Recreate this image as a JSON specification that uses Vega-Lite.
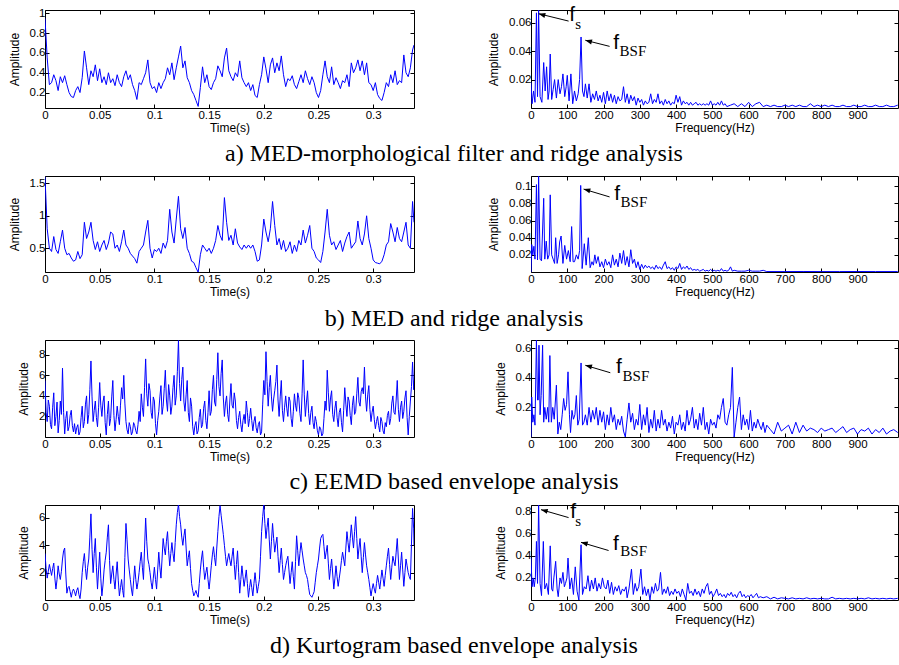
{
"$schema": "https://vega.github.io/schema/vega-lite/v6.json",
"autosize": {"type": "pad"},
"padding": {"left": 7, "top": 3, "right": 0, "bottom": 0},
"background": "white",
"bounds": "flush",
"columns": 2,
"spacing": {"row": 68, "column": 117},
"datasets": {
"ta": [{"t":0,"v":0.95},{"t":0.002,"v":0.55},{"t":0.004,"v":0.28},{"t":0.006,"v":0.3},{"t":0.008,"v":0.38},{"t":0.01,"v":0.32},{"t":0.012,"v":0.22},{"t":0.014,"v":0.36},{"t":0.016,"v":0.3},{"t":0.018,"v":0.37},{"t":0.02,"v":0.28},{"t":0.022,"v":0.2},{"t":0.024,"v":0.16},{"t":0.026,"v":0.15},{"t":0.028,"v":0.22},{"t":0.03,"v":0.26},{"t":0.032,"v":0.2},{"t":0.034,"v":0.35},{"t":0.036,"v":0.62},{"t":0.038,"v":0.45},{"t":0.04,"v":0.28},{"t":0.042,"v":0.42},{"t":0.044,"v":0.36},{"t":0.046,"v":0.48},{"t":0.048,"v":0.32},{"t":0.05,"v":0.44},{"t":0.052,"v":0.3},{"t":0.054,"v":0.36},{"t":0.056,"v":0.28},{"t":0.058,"v":0.4},{"t":0.06,"v":0.3},{"t":0.062,"v":0.34},{"t":0.064,"v":0.27},{"t":0.066,"v":0.38},{"t":0.068,"v":0.3},{"t":0.07,"v":0.26},{"t":0.072,"v":0.36},{"t":0.074,"v":0.42},{"t":0.076,"v":0.33},{"t":0.078,"v":0.38},{"t":0.08,"v":0.28},{"t":0.082,"v":0.22},{"t":0.084,"v":0.13},{"t":0.086,"v":0.3},{"t":0.088,"v":0.28},{"t":0.09,"v":0.34},{"t":0.092,"v":0.4},{"t":0.094,"v":0.53},{"t":0.096,"v":0.3},{"t":0.098,"v":0.24},{"t":0.1,"v":0.26},{"t":0.102,"v":0.2},{"t":0.104,"v":0.3},{"t":0.106,"v":0.24},{"t":0.108,"v":0.3},{"t":0.11,"v":0.34},{"t":0.112,"v":0.45},{"t":0.114,"v":0.38},{"t":0.116,"v":0.5},{"t":0.118,"v":0.33},{"t":0.12,"v":0.45},{"t":0.122,"v":0.56},{"t":0.124,"v":0.67},{"t":0.126,"v":0.45},{"t":0.128,"v":0.52},{"t":0.13,"v":0.35},{"t":0.132,"v":0.3},{"t":0.134,"v":0.22},{"t":0.136,"v":0.18},{"t":0.138,"v":0.12},{"t":0.14,"v":0.06},{"t":0.142,"v":0.25},{"t":0.144,"v":0.46},{"t":0.146,"v":0.3},{"t":0.148,"v":0.38},{"t":0.15,"v":0.26},{"t":0.152,"v":0.23},{"t":0.154,"v":0.3},{"t":0.156,"v":0.34},{"t":0.158,"v":0.47},{"t":0.16,"v":0.42},{"t":0.162,"v":0.36},{"t":0.164,"v":0.55},{"t":0.166,"v":0.65},{"t":0.168,"v":0.42},{"t":0.17,"v":0.36},{"t":0.172,"v":0.32},{"t":0.174,"v":0.4},{"t":0.176,"v":0.36},{"t":0.178,"v":0.52},{"t":0.18,"v":0.35},{"t":0.182,"v":0.3},{"t":0.184,"v":0.26},{"t":0.186,"v":0.3},{"t":0.188,"v":0.22},{"t":0.19,"v":0.28},{"t":0.192,"v":0.17},{"t":0.194,"v":0.15},{"t":0.196,"v":0.28},{"t":0.198,"v":0.38},{"t":0.2,"v":0.56},{"t":0.202,"v":0.44},{"t":0.204,"v":0.3},{"t":0.206,"v":0.48},{"t":0.208,"v":0.55},{"t":0.21,"v":0.4},{"t":0.212,"v":0.5},{"t":0.214,"v":0.42},{"t":0.216,"v":0.57},{"t":0.218,"v":0.38},{"t":0.22,"v":0.26},{"t":0.222,"v":0.34},{"t":0.224,"v":0.32},{"t":0.226,"v":0.37},{"t":0.228,"v":0.28},{"t":0.23,"v":0.24},{"t":0.232,"v":0.31},{"t":0.234,"v":0.38},{"t":0.236,"v":0.3},{"t":0.238,"v":0.42},{"t":0.24,"v":0.34},{"t":0.242,"v":0.28},{"t":0.244,"v":0.36},{"t":0.246,"v":0.3},{"t":0.248,"v":0.2},{"t":0.25,"v":0.15},{"t":0.252,"v":0.22},{"t":0.254,"v":0.38},{"t":0.256,"v":0.52},{"t":0.258,"v":0.36},{"t":0.26,"v":0.3},{"t":0.262,"v":0.46},{"t":0.264,"v":0.28},{"t":0.266,"v":0.35},{"t":0.268,"v":0.3},{"t":0.27,"v":0.24},{"t":0.272,"v":0.32},{"t":0.274,"v":0.3},{"t":0.276,"v":0.38},{"t":0.278,"v":0.26},{"t":0.28,"v":0.5},{"t":0.282,"v":0.4},{"t":0.284,"v":0.45},{"t":0.286,"v":0.53},{"t":0.288,"v":0.42},{"t":0.29,"v":0.52},{"t":0.292,"v":0.38},{"t":0.294,"v":0.5},{"t":0.296,"v":0.3},{"t":0.298,"v":0.28},{"t":0.3,"v":0.22},{"t":0.302,"v":0.3},{"t":0.304,"v":0.18},{"t":0.306,"v":0.14},{"t":0.308,"v":0.12},{"t":0.31,"v":0.2},{"t":0.312,"v":0.3},{"t":0.314,"v":0.26},{"t":0.316,"v":0.38},{"t":0.318,"v":0.3},{"t":0.32,"v":0.42},{"t":0.322,"v":0.28},{"t":0.324,"v":0.32},{"t":0.326,"v":0.3},{"t":0.328,"v":0.58},{"t":0.33,"v":0.4},{"t":0.332,"v":0.36},{"t":0.334,"v":0.45},{"t":0.336,"v":0.63},{"t":0.3373,"v":0.68}],
"tb": [{"t":0,"v":1.6},{"t":0.002,"v":0.8},{"t":0.004,"v":0.5},{"t":0.006,"v":0.45},{"t":0.008,"v":0.68},{"t":0.01,"v":0.48},{"t":0.012,"v":0.42},{"t":0.014,"v":0.6},{"t":0.016,"v":0.78},{"t":0.018,"v":0.5},{"t":0.02,"v":0.4},{"t":0.022,"v":0.42},{"t":0.024,"v":0.35},{"t":0.026,"v":0.3},{"t":0.028,"v":0.32},{"t":0.03,"v":0.45},{"t":0.032,"v":0.34},{"t":0.034,"v":0.4},{"t":0.036,"v":0.9},{"t":0.038,"v":0.65},{"t":0.04,"v":0.75},{"t":0.042,"v":0.9},{"t":0.044,"v":0.62},{"t":0.046,"v":0.48},{"t":0.048,"v":0.6},{"t":0.05,"v":0.45},{"t":0.052,"v":0.55},{"t":0.054,"v":0.62},{"t":0.056,"v":0.48},{"t":0.058,"v":0.58},{"t":0.06,"v":0.75},{"t":0.062,"v":0.72},{"t":0.064,"v":0.5},{"t":0.066,"v":0.55},{"t":0.068,"v":0.45},{"t":0.07,"v":0.6},{"t":0.072,"v":0.78},{"t":0.074,"v":0.55},{"t":0.076,"v":0.5},{"t":0.078,"v":0.42},{"t":0.08,"v":0.38},{"t":0.082,"v":0.34},{"t":0.084,"v":0.27},{"t":0.086,"v":0.45},{"t":0.088,"v":0.5},{"t":0.09,"v":0.55},{"t":0.092,"v":0.75},{"t":0.094,"v":0.93},{"t":0.096,"v":0.5},{"t":0.098,"v":0.35},{"t":0.1,"v":0.48},{"t":0.102,"v":0.45},{"t":0.104,"v":0.5},{"t":0.106,"v":0.42},{"t":0.108,"v":0.58},{"t":0.11,"v":0.5},{"t":0.112,"v":0.62},{"t":0.114,"v":1.1},{"t":0.116,"v":0.75},{"t":0.118,"v":0.58},{"t":0.12,"v":0.95},{"t":0.122,"v":1.3},{"t":0.124,"v":0.8},{"t":0.126,"v":0.65},{"t":0.128,"v":0.82},{"t":0.13,"v":0.5},{"t":0.132,"v":0.42},{"t":0.134,"v":0.3},{"t":0.136,"v":0.28},{"t":0.138,"v":0.2},{"t":0.14,"v":0.13},{"t":0.142,"v":0.4},{"t":0.144,"v":0.55},{"t":0.146,"v":0.5},{"t":0.148,"v":0.45},{"t":0.15,"v":0.5},{"t":0.152,"v":0.42},{"t":0.154,"v":0.5},{"t":0.156,"v":0.62},{"t":0.158,"v":0.85},{"t":0.16,"v":0.7},{"t":0.162,"v":0.62},{"t":0.164,"v":1.28},{"t":0.166,"v":0.9},{"t":0.168,"v":0.62},{"t":0.17,"v":0.7},{"t":0.172,"v":0.55},{"t":0.174,"v":0.8},{"t":0.176,"v":0.58},{"t":0.178,"v":0.52},{"t":0.18,"v":0.48},{"t":0.182,"v":0.55},{"t":0.184,"v":0.5},{"t":0.186,"v":0.55},{"t":0.188,"v":0.5},{"t":0.19,"v":0.55},{"t":0.192,"v":0.45},{"t":0.194,"v":0.3},{"t":0.196,"v":0.32},{"t":0.198,"v":0.55},{"t":0.2,"v":0.95},{"t":0.202,"v":0.75},{"t":0.204,"v":0.6},{"t":0.206,"v":0.8},{"t":0.208,"v":1.22},{"t":0.21,"v":0.85},{"t":0.212,"v":0.55},{"t":0.214,"v":0.65},{"t":0.216,"v":0.48},{"t":0.218,"v":0.62},{"t":0.22,"v":0.45},{"t":0.222,"v":0.5},{"t":0.224,"v":0.6},{"t":0.226,"v":0.42},{"t":0.228,"v":0.55},{"t":0.23,"v":0.45},{"t":0.232,"v":0.62},{"t":0.234,"v":0.55},{"t":0.236,"v":0.78},{"t":0.238,"v":0.58},{"t":0.24,"v":0.7},{"t":0.242,"v":0.85},{"t":0.244,"v":0.5},{"t":0.246,"v":0.45},{"t":0.248,"v":0.35},{"t":0.25,"v":0.32},{"t":0.252,"v":0.28},{"t":0.254,"v":0.45},{"t":0.256,"v":0.75},{"t":0.258,"v":1.1},{"t":0.26,"v":0.7},{"t":0.262,"v":0.55},{"t":0.264,"v":0.6},{"t":0.266,"v":0.48},{"t":0.268,"v":0.55},{"t":0.27,"v":0.62},{"t":0.272,"v":0.45},{"t":0.274,"v":0.58},{"t":0.276,"v":0.68},{"t":0.278,"v":0.75},{"t":0.28,"v":0.5},{"t":0.282,"v":0.55},{"t":0.284,"v":0.6},{"t":0.286,"v":0.92},{"t":0.288,"v":0.65},{"t":0.29,"v":0.55},{"t":0.292,"v":0.72},{"t":0.294,"v":1.0},{"t":0.296,"v":0.65},{"t":0.298,"v":0.5},{"t":0.3,"v":0.32},{"t":0.302,"v":0.28},{"t":0.304,"v":0.27},{"t":0.306,"v":0.26},{"t":0.308,"v":0.3},{"t":0.31,"v":0.4},{"t":0.312,"v":0.55},{"t":0.314,"v":0.6},{"t":0.316,"v":0.88},{"t":0.318,"v":0.75},{"t":0.32,"v":0.6},{"t":0.322,"v":0.82},{"t":0.324,"v":0.65},{"t":0.326,"v":0.6},{"t":0.328,"v":0.75},{"t":0.33,"v":0.9},{"t":0.332,"v":0.55},{"t":0.334,"v":0.5},{"t":0.336,"v":1.22},{"t":0.3373,"v":0.9}],
"tc": [{"t":0,"v":5.5},{"t":0.001,"v":2.4},{"t":0.002,"v":1.5},{"t":0.003,"v":3.6},{"t":0.004,"v":3},{"t":0.005,"v":1.2},{"t":0.006,"v":0.8},{"t":0.007,"v":2.9},{"t":0.008,"v":4.3},{"t":0.009,"v":1.1},{"t":0.01,"v":2},{"t":0.011,"v":3.4},{"t":0.012,"v":0.4},{"t":0.013,"v":1.6},{"t":0.014,"v":3.5},{"t":0.015,"v":2.2},{"t":0.016,"v":6.7},{"t":0.017,"v":2.4},{"t":0.018,"v":0.3},{"t":0.019,"v":1.8},{"t":0.02,"v":2.5},{"t":0.021,"v":0.6},{"t":0.022,"v":1},{"t":0.023,"v":2.1},{"t":0.024,"v":2.6},{"t":0.025,"v":1.1},{"t":0.026,"v":0.5},{"t":0.027,"v":1.3},{"t":0.028,"v":0.3},{"t":0.029,"v":0.9},{"t":0.03,"v":1.2},{"t":0.031,"v":0.2},{"t":0.032,"v":0.5},{"t":0.033,"v":1.9},{"t":0.034,"v":3},{"t":0.035,"v":0.9},{"t":0.036,"v":1.5},{"t":0.037,"v":3.2},{"t":0.038,"v":4},{"t":0.039,"v":1.3},{"t":0.04,"v":2.2},{"t":0.041,"v":4.6},{"t":0.042,"v":7.4},{"t":0.043,"v":3.9},{"t":0.044,"v":1.5},{"t":0.045,"v":2.6},{"t":0.046,"v":3.5},{"t":0.047,"v":1.9},{"t":0.048,"v":1},{"t":0.049,"v":2.9},{"t":0.05,"v":5.3},{"t":0.051,"v":3.1},{"t":0.052,"v":2},{"t":0.053,"v":3.4},{"t":0.054,"v":4},{"t":0.055,"v":1.4},{"t":0.056,"v":0.2},{"t":0.057,"v":2.2},{"t":0.058,"v":3.5},{"t":0.059,"v":1.1},{"t":0.06,"v":1.8},{"t":0.061,"v":3.9},{"t":0.062,"v":5.5},{"t":0.063,"v":2.1},{"t":0.064,"v":0.6},{"t":0.065,"v":1.7},{"t":0.066,"v":3},{"t":0.067,"v":2},{"t":0.068,"v":1.2},{"t":0.069,"v":3.1},{"t":0.07,"v":4.8},{"t":0.071,"v":3.7},{"t":0.072,"v":6},{"t":0.073,"v":3.3},{"t":0.074,"v":1.5},{"t":0.075,"v":0.7},{"t":0.076,"v":0.3},{"t":0.077,"v":1.4},{"t":0.078,"v":1},{"t":0.079,"v":0.2},{"t":0.08,"v":0.5},{"t":0.081,"v":1.4},{"t":0.082,"v":1.1},{"t":0.083,"v":0.6},{"t":0.084,"v":0.3},{"t":0.085,"v":1.2},{"t":0.086,"v":2.5},{"t":0.087,"v":1.5},{"t":0.088,"v":4.2},{"t":0.089,"v":2.9},{"t":0.09,"v":2},{"t":0.091,"v":4.8},{"t":0.092,"v":7.6},{"t":0.093,"v":4.2},{"t":0.094,"v":3},{"t":0.095,"v":5.2},{"t":0.096,"v":4.5},{"t":0.097,"v":2.4},{"t":0.098,"v":1.8},{"t":0.099,"v":3.9},{"t":0.1,"v":3.5},{"t":0.101,"v":1.3},{"t":0.102,"v":0.2},{"t":0.103,"v":1.6},{"t":0.104,"v":2.5},{"t":0.105,"v":3.9},{"t":0.106,"v":5},{"t":0.107,"v":2.2},{"t":0.108,"v":3},{"t":0.109,"v":4.7},{"t":0.11,"v":6.5},{"t":0.111,"v":3.6},{"t":0.112,"v":2.5},{"t":0.113,"v":5.1},{"t":0.114,"v":4},{"t":0.115,"v":2.2},{"t":0.116,"v":3},{"t":0.117,"v":4.8},{"t":0.118,"v":6},{"t":0.119,"v":3.1},{"t":0.12,"v":4},{"t":0.121,"v":6.4},{"t":0.122,"v":9.4},{"t":0.123,"v":5.2},{"t":0.124,"v":3.5},{"t":0.125,"v":5.6},{"t":0.126,"v":6.8},{"t":0.127,"v":3.4},{"t":0.128,"v":2.5},{"t":0.129,"v":4.1},{"t":0.13,"v":5.5},{"t":0.131,"v":2.4},{"t":0.132,"v":1.5},{"t":0.133,"v":3.8},{"t":0.134,"v":3},{"t":0.135,"v":1},{"t":0.136,"v":0.2},{"t":0.137,"v":1.1},{"t":0.138,"v":1.5},{"t":0.139,"v":0.3},{"t":0.14,"v":0.6},{"t":0.141,"v":1.9},{"t":0.142,"v":2.7},{"t":0.143,"v":0.9},{"t":0.144,"v":1.2},{"t":0.145,"v":2.8},{"t":0.146,"v":3.5},{"t":0.147,"v":1.6},{"t":0.148,"v":0.8},{"t":0.149,"v":2.4},{"t":0.15,"v":4.5},{"t":0.151,"v":2.1},{"t":0.152,"v":2.5},{"t":0.153,"v":4.6},{"t":0.154,"v":6},{"t":0.155,"v":3.4},{"t":0.156,"v":3},{"t":0.157,"v":5.6},{"t":0.158,"v":8.2},{"t":0.159,"v":4.9},{"t":0.16,"v":4},{"t":0.161,"v":6.2},{"t":0.162,"v":7.5},{"t":0.163,"v":3.8},{"t":0.164,"v":2},{"t":0.165,"v":3.3},{"t":0.166,"v":4},{"t":0.167,"v":2.2},{"t":0.168,"v":1.5},{"t":0.169,"v":3.6},{"t":0.17,"v":5.2},{"t":0.171,"v":3.1},{"t":0.172,"v":2.8},{"t":0.173,"v":4.3},{"t":0.174,"v":3.5},{"t":0.175,"v":1.6},{"t":0.176,"v":0.8},{"t":0.177,"v":1.9},{"t":0.178,"v":2.5},{"t":0.179,"v":1.2},{"t":0.18,"v":0.5},{"t":0.181,"v":1.6},{"t":0.182,"v":2.2},{"t":0.183,"v":1.3},{"t":0.184,"v":3.5},{"t":0.185,"v":2.4},{"t":0.186,"v":1},{"t":0.187,"v":1.8},{"t":0.188,"v":2.8},{"t":0.189,"v":1.6},{"t":0.19,"v":0.6},{"t":0.191,"v":1.5},{"t":0.192,"v":2},{"t":0.193,"v":0.9},{"t":0.194,"v":0.4},{"t":0.195,"v":1.2},{"t":0.196,"v":1.5},{"t":0.197,"v":0.2},{"t":0.198,"v":0.5},{"t":0.199,"v":3.2},{"t":0.2,"v":5.5},{"t":0.201,"v":4.1},{"t":0.202,"v":8.3},{"t":0.203,"v":5.4},{"t":0.204,"v":3},{"t":0.205,"v":4.8},{"t":0.206,"v":6},{"t":0.207,"v":3.9},{"t":0.208,"v":2.5},{"t":0.209,"v":3.7},{"t":0.21,"v":4.5},{"t":0.211,"v":5.4},{"t":0.212,"v":7},{"t":0.213,"v":3.6},{"t":0.214,"v":2},{"t":0.215,"v":3.9},{"t":0.216,"v":5.5},{"t":0.217,"v":2.6},{"t":0.218,"v":1.5},{"t":0.219,"v":2.9},{"t":0.22,"v":4},{"t":0.221,"v":2.8},{"t":0.222,"v":2},{"t":0.223,"v":3.9},{"t":0.224,"v":3.5},{"t":0.225,"v":1.8},{"t":0.226,"v":1},{"t":0.227,"v":2.5},{"t":0.228,"v":4.2},{"t":0.229,"v":3.1},{"t":0.23,"v":2.5},{"t":0.231,"v":4.3},{"t":0.232,"v":3.8},{"t":0.233,"v":2.3},{"t":0.234,"v":1.5},{"t":0.235,"v":4.2},{"t":0.236,"v":7.5},{"t":0.237,"v":4.1},{"t":0.238,"v":2},{"t":0.239,"v":3.4},{"t":0.24,"v":4.5},{"t":0.241,"v":2.3},{"t":0.242,"v":1.2},{"t":0.243,"v":2.4},{"t":0.244,"v":3},{"t":0.245,"v":1.4},{"t":0.246,"v":0.8},{"t":0.247,"v":2},{"t":0.248,"v":1.5},{"t":0.249,"v":0.6},{"t":0.25,"v":0.2},{"t":0.251,"v":1},{"t":0.252,"v":0.8},{"t":0.253,"v":0.1},{"t":0.254,"v":0.3},{"t":0.255,"v":1.8},{"t":0.256,"v":3.5},{"t":0.257,"v":2.6},{"t":0.258,"v":6.5},{"t":0.259,"v":4.3},{"t":0.26,"v":2.5},{"t":0.261,"v":3.8},{"t":0.262,"v":4.5},{"t":0.263,"v":2.2},{"t":0.264,"v":1.5},{"t":0.265,"v":2.8},{"t":0.266,"v":3.5},{"t":0.267,"v":1.9},{"t":0.268,"v":1},{"t":0.269,"v":2.4},{"t":0.27,"v":2.8},{"t":0.271,"v":1.4},{"t":0.272,"v":0.5},{"t":0.273,"v":2.6},{"t":0.274,"v":4.8},{"t":0.275,"v":3.2},{"t":0.276,"v":2},{"t":0.277,"v":3.9},{"t":0.278,"v":3.5},{"t":0.279,"v":2.1},{"t":0.28,"v":1.2},{"t":0.281,"v":3.1},{"t":0.282,"v":4},{"t":0.283,"v":2.2},{"t":0.284,"v":2.5},{"t":0.285,"v":4.2},{"t":0.286,"v":5.8},{"t":0.287,"v":3.4},{"t":0.288,"v":3},{"t":0.289,"v":4.4},{"t":0.29,"v":4.8},{"t":0.291,"v":4.2},{"t":0.292,"v":6.8},{"t":0.293,"v":3.9},{"t":0.294,"v":2.5},{"t":0.295,"v":4.1},{"t":0.296,"v":5},{"t":0.297,"v":2.7},{"t":0.298,"v":1.5},{"t":0.299,"v":2.4},{"t":0.3,"v":3},{"t":0.301,"v":1.7},{"t":0.302,"v":0.8},{"t":0.303,"v":1.5},{"t":0.304,"v":2},{"t":0.305,"v":1.1},{"t":0.306,"v":0.5},{"t":0.307,"v":1.9},{"t":0.308,"v":1.5},{"t":0.309,"v":0.6},{"t":0.31,"v":0.3},{"t":0.311,"v":1.4},{"t":0.312,"v":1},{"t":0.313,"v":2.1},{"t":0.314,"v":2.5},{"t":0.315,"v":1.2},{"t":0.316,"v":1.8},{"t":0.317,"v":3.3},{"t":0.318,"v":4},{"t":0.319,"v":2.4},{"t":0.32,"v":2.2},{"t":0.321,"v":3.6},{"t":0.322,"v":5.5},{"t":0.323,"v":2.7},{"t":0.324,"v":1.5},{"t":0.325,"v":2.9},{"t":0.326,"v":3.5},{"t":0.327,"v":1.8},{"t":0.328,"v":2.5},{"t":0.329,"v":3.8},{"t":0.33,"v":4.5},{"t":0.331,"v":1.9},{"t":0.332,"v":0.2},{"t":0.333,"v":2},{"t":0.334,"v":3.5},{"t":0.335,"v":4.9},{"t":0.336,"v":7.3},{"t":0.337,"v":4.6},{"t":0.3373,"v":5.5}],
"td": [{"t":0,"v":3.4},{"t":0.001,"v":2.3},{"t":0.002,"v":1.6},{"t":0.003,"v":2.1},{"t":0.004,"v":2.6},{"t":0.005,"v":2.2},{"t":0.006,"v":1.8},{"t":0.007,"v":2.3},{"t":0.008,"v":2.7},{"t":0.009,"v":1.6},{"t":0.01,"v":0.8},{"t":0.011,"v":1.5},{"t":0.012,"v":2.5},{"t":0.013,"v":1.9},{"t":0.014,"v":1.5},{"t":0.015,"v":2.1},{"t":0.016,"v":3},{"t":0.017,"v":3.6},{"t":0.018,"v":3.8},{"t":0.019,"v":1.9},{"t":0.02,"v":0.5},{"t":0.021,"v":0.9},{"t":0.022,"v":1},{"t":0.023,"v":0.6},{"t":0.024,"v":0.2},{"t":0.025,"v":0.6},{"t":0.026,"v":0.8},{"t":0.027,"v":0.6},{"t":0.028,"v":0.3},{"t":0.029,"v":0.7},{"t":0.03,"v":0.9},{"t":0.031,"v":0.4},{"t":0.032,"v":0.1},{"t":0.033,"v":0.8},{"t":0.034,"v":2},{"t":0.035,"v":2.8},{"t":0.036,"v":3.4},{"t":0.037,"v":2.3},{"t":0.038,"v":1.5},{"t":0.039,"v":2.4},{"t":0.04,"v":3},{"t":0.041,"v":4.6},{"t":0.042,"v":6.3},{"t":0.043,"v":3.7},{"t":0.044,"v":2},{"t":0.045,"v":3.4},{"t":0.046,"v":4.5},{"t":0.047,"v":2.4},{"t":0.048,"v":0.8},{"t":0.049,"v":2.2},{"t":0.05,"v":3.5},{"t":0.051,"v":1.6},{"t":0.052,"v":0.3},{"t":0.053,"v":1.1},{"t":0.054,"v":2.2},{"t":0.055,"v":2.9},{"t":0.056,"v":3.5},{"t":0.057,"v":4.6},{"t":0.058,"v":5.5},{"t":0.059,"v":2.9},{"t":0.06,"v":1.2},{"t":0.061,"v":1.9},{"t":0.062,"v":2.5},{"t":0.063,"v":1.5},{"t":0.064,"v":0.8},{"t":0.065,"v":1.9},{"t":0.066,"v":2.8},{"t":0.067,"v":1.4},{"t":0.068,"v":0.3},{"t":0.069,"v":0.9},{"t":0.07,"v":1.5},{"t":0.071,"v":0.7},{"t":0.072,"v":0.2},{"t":0.073,"v":3.1},{"t":0.074,"v":5.6},{"t":0.075,"v":4.4},{"t":0.076,"v":3},{"t":0.077,"v":2.2},{"t":0.078,"v":1.5},{"t":0.079,"v":0.8},{"t":0.08,"v":0.3},{"t":0.081,"v":1.4},{"t":0.082,"v":2.5},{"t":0.083,"v":1.5},{"t":0.084,"v":0.8},{"t":0.085,"v":1.3},{"t":0.086,"v":2},{"t":0.087,"v":2.8},{"t":0.088,"v":3.5},{"t":0.089,"v":2.4},{"t":0.09,"v":1.5},{"t":0.091,"v":3.8},{"t":0.092,"v":6},{"t":0.093,"v":4.3},{"t":0.094,"v":3},{"t":0.095,"v":2.6},{"t":0.096,"v":2},{"t":0.097,"v":1.3},{"t":0.098,"v":0.8},{"t":0.099,"v":1.6},{"t":0.1,"v":2.4},{"t":0.101,"v":1.5},{"t":0.102,"v":0.8},{"t":0.103,"v":2.2},{"t":0.104,"v":3.5},{"t":0.105,"v":2.4},{"t":0.106,"v":1.6},{"t":0.107,"v":3},{"t":0.108,"v":4.5},{"t":0.109,"v":3.8},{"t":0.11,"v":3.3},{"t":0.111,"v":4.3},{"t":0.112,"v":5},{"t":0.113,"v":3.6},{"t":0.114,"v":2.5},{"t":0.115,"v":3.4},{"t":0.116,"v":4.2},{"t":0.117,"v":3.4},{"t":0.118,"v":2.8},{"t":0.119,"v":4.2},{"t":0.12,"v":5.5},{"t":0.121,"v":6.4},{"t":0.122,"v":7},{"t":0.123,"v":6.1},{"t":0.124,"v":5.5},{"t":0.125,"v":4.6},{"t":0.126,"v":4},{"t":0.127,"v":4.7},{"t":0.128,"v":5.2},{"t":0.129,"v":3.8},{"t":0.13,"v":2.5},{"t":0.131,"v":3.1},{"t":0.132,"v":3.6},{"t":0.133,"v":2.3},{"t":0.134,"v":1.2},{"t":0.135,"v":0.7},{"t":0.136,"v":0.3},{"t":0.137,"v":0.5},{"t":0.138,"v":0.7},{"t":0.139,"v":0.4},{"t":0.14,"v":0.2},{"t":0.141,"v":1.2},{"t":0.142,"v":2.2},{"t":0.143,"v":3},{"t":0.144,"v":3.6},{"t":0.145,"v":2.4},{"t":0.146,"v":1.5},{"t":0.147,"v":2},{"t":0.148,"v":2.4},{"t":0.149,"v":1.5},{"t":0.15,"v":0.8},{"t":0.151,"v":1.6},{"t":0.152,"v":2.5},{"t":0.153,"v":3.3},{"t":0.154,"v":3.9},{"t":0.155,"v":3.1},{"t":0.156,"v":2.5},{"t":0.157,"v":3.8},{"t":0.158,"v":5},{"t":0.159,"v":6.1},{"t":0.16,"v":6.9},{"t":0.161,"v":6.2},{"t":0.162,"v":5.5},{"t":0.163,"v":4.8},{"t":0.164,"v":4},{"t":0.165,"v":3.2},{"t":0.166,"v":2.5},{"t":0.167,"v":3},{"t":0.168,"v":3.4},{"t":0.169,"v":2.9},{"t":0.17,"v":2.5},{"t":0.171,"v":3.2},{"t":0.172,"v":3.8},{"t":0.173,"v":2.6},{"t":0.174,"v":1.5},{"t":0.175,"v":2.6},{"t":0.176,"v":3.6},{"t":0.177,"v":2},{"t":0.178,"v":0.5},{"t":0.179,"v":1.5},{"t":0.18,"v":2.5},{"t":0.181,"v":1.7},{"t":0.182,"v":1},{"t":0.183,"v":1.6},{"t":0.184,"v":2.2},{"t":0.185,"v":1.2},{"t":0.186,"v":0.2},{"t":0.187,"v":0.9},{"t":0.188,"v":1.5},{"t":0.189,"v":0.9},{"t":0.19,"v":0.3},{"t":0.191,"v":1.2},{"t":0.192,"v":2},{"t":0.193,"v":1.2},{"t":0.194,"v":0.5},{"t":0.195,"v":1},{"t":0.196,"v":1.5},{"t":0.197,"v":3.2},{"t":0.198,"v":5},{"t":0.199,"v":6.1},{"t":0.2,"v":7},{"t":0.201,"v":5.6},{"t":0.202,"v":4.5},{"t":0.203,"v":5.3},{"t":0.204,"v":6},{"t":0.205,"v":4.4},{"t":0.206,"v":3},{"t":0.207,"v":4.3},{"t":0.208,"v":5.6},{"t":0.209,"v":4.5},{"t":0.21,"v":3.5},{"t":0.211,"v":4.1},{"t":0.212,"v":4.6},{"t":0.213,"v":3.2},{"t":0.214,"v":2},{"t":0.215,"v":2.9},{"t":0.216,"v":3.8},{"t":0.217,"v":2.6},{"t":0.218,"v":1.5},{"t":0.219,"v":2},{"t":0.22,"v":2.5},{"t":0.221,"v":2.9},{"t":0.222,"v":3.2},{"t":0.223,"v":2.2},{"t":0.224,"v":1.2},{"t":0.225,"v":2},{"t":0.226,"v":2.8},{"t":0.227,"v":1.7},{"t":0.228,"v":0.8},{"t":0.229,"v":2.8},{"t":0.23,"v":4.7},{"t":0.231,"v":3.6},{"t":0.232,"v":2.5},{"t":0.233,"v":3.4},{"t":0.234,"v":4.2},{"t":0.235,"v":3.6},{"t":0.236,"v":3},{"t":0.237,"v":2.5},{"t":0.238,"v":2},{"t":0.239,"v":1.8},{"t":0.24,"v":1.5},{"t":0.241,"v":0.9},{"t":0.242,"v":0.4},{"t":0.243,"v":0.3},{"t":0.244,"v":0.2},{"t":0.245,"v":0.4},{"t":0.246,"v":0.6},{"t":0.247,"v":1.3},{"t":0.248,"v":2},{"t":0.249,"v":2.5},{"t":0.25,"v":3},{"t":0.251,"v":3.8},{"t":0.252,"v":4.5},{"t":0.253,"v":4.7},{"t":0.254,"v":4.8},{"t":0.255,"v":3.9},{"t":0.256,"v":3},{"t":0.257,"v":3.5},{"t":0.258,"v":4},{"t":0.259,"v":2.7},{"t":0.26,"v":1.5},{"t":0.261,"v":2.3},{"t":0.262,"v":3},{"t":0.263,"v":1.9},{"t":0.264,"v":0.8},{"t":0.265,"v":1.6},{"t":0.266,"v":2.5},{"t":0.267,"v":1.7},{"t":0.268,"v":1},{"t":0.269,"v":1.6},{"t":0.27,"v":2.2},{"t":0.271,"v":2.9},{"t":0.272,"v":3.5},{"t":0.273,"v":3},{"t":0.274,"v":2.5},{"t":0.275,"v":3.8},{"t":0.276,"v":5},{"t":0.277,"v":4.2},{"t":0.278,"v":3.5},{"t":0.279,"v":4.5},{"t":0.28,"v":5.5},{"t":0.281,"v":4.6},{"t":0.282,"v":3.8},{"t":0.283,"v":5},{"t":0.284,"v":6.1},{"t":0.285,"v":4.5},{"t":0.286,"v":3},{"t":0.287,"v":3.8},{"t":0.288,"v":4.5},{"t":0.289,"v":3.2},{"t":0.29,"v":2},{"t":0.291,"v":3.1},{"t":0.292,"v":4.2},{"t":0.293,"v":3.3},{"t":0.294,"v":2.5},{"t":0.295,"v":2},{"t":0.296,"v":1.5},{"t":0.297,"v":0.9},{"t":0.298,"v":0.3},{"t":0.299,"v":0.8},{"t":0.3,"v":1.2},{"t":0.301,"v":0.8},{"t":0.302,"v":0.5},{"t":0.303,"v":1.2},{"t":0.304,"v":1.8},{"t":0.305,"v":1.3},{"t":0.306,"v":0.8},{"t":0.307,"v":1.5},{"t":0.308,"v":2.2},{"t":0.309,"v":1.6},{"t":0.31,"v":1},{"t":0.311,"v":1.8},{"t":0.312,"v":2.5},{"t":0.313,"v":3.2},{"t":0.314,"v":3.8},{"t":0.315,"v":2.6},{"t":0.316,"v":1.5},{"t":0.317,"v":2.4},{"t":0.318,"v":3.2},{"t":0.319,"v":2.8},{"t":0.32,"v":2.5},{"t":0.321,"v":3.5},{"t":0.322,"v":4.5},{"t":0.323,"v":3},{"t":0.324,"v":1.5},{"t":0.325,"v":2.5},{"t":0.326,"v":3.5},{"t":0.327,"v":2.2},{"t":0.328,"v":1},{"t":0.329,"v":2},{"t":0.33,"v":3},{"t":0.331,"v":2.5},{"t":0.332,"v":2},{"t":0.333,"v":1.7},{"t":0.334,"v":1.5},{"t":0.335,"v":4.1},{"t":0.336,"v":6.7},{"t":0.337,"v":5.2},{"t":0.3373,"v":4}],
"sa": [{"f":0,"v":0.018},{"f":3,"v":0.003},{"f":7,"v":0.012},{"f":11,"v":0.004},{"f":15,"v":0.067},{"f":18,"v":0.008},{"f":21,"v":0.069},{"f":25,"v":0.008},{"f":30,"v":0.004},{"f":35,"v":0.032},{"f":39,"v":0.012},{"f":43,"v":0.029},{"f":47,"v":0.006},{"f":50,"v":0.012},{"f":53,"v":0.038},{"f":57,"v":0.006},{"f":61,"v":0.013},{"f":65,"v":0.02},{"f":70,"v":0.007},{"f":75,"v":0.02},{"f":80,"v":0.01},{"f":84,"v":0.015},{"f":88,"v":0.024},{"f":93,"v":0.008},{"f":97,"v":0.015},{"f":100,"v":0.023},{"f":105,"v":0.005},{"f":110,"v":0.024},{"f":115,"v":0.003},{"f":120,"v":0.012},{"f":125,"v":0.005},{"f":130,"v":0.01},{"f":134,"v":0.02},{"f":138,"v":0.05},{"f":142,"v":0.012},{"f":146,"v":0.008},{"f":150,"v":0.017},{"f":155,"v":0.007},{"f":160,"v":0.017},{"f":165,"v":0.004},{"f":170,"v":0.01},{"f":175,"v":0.006},{"f":180,"v":0.012},{"f":185,"v":0.005},{"f":190,"v":0.009},{"f":195,"v":0.004},{"f":200,"v":0.011},{"f":205,"v":0.003},{"f":210,"v":0.012},{"f":215,"v":0.005},{"f":220,"v":0.01},{"f":225,"v":0.004},{"f":230,"v":0.009},{"f":235,"v":0.003},{"f":240,"v":0.008},{"f":245,"v":0.005},{"f":250,"v":0.006},{"f":255,"v":0.015},{"f":260,"v":0.004},{"f":265,"v":0.01},{"f":270,"v":0.003},{"f":275,"v":0.009},{"f":280,"v":0.005},{"f":285,"v":0.008},{"f":290,"v":0.002},{"f":295,"v":0.007},{"f":300,"v":0.004},{"f":305,"v":0.006},{"f":310,"v":0.002},{"f":315,"v":0.005},{"f":320,"v":0.003},{"f":325,"v":0.004},{"f":330,"v":0.01},{"f":335,"v":0.003},{"f":340,"v":0.006},{"f":345,"v":0.004},{"f":350,"v":0.01},{"f":355,"v":0.003},{"f":360,"v":0.005},{"f":365,"v":0.002},{"f":370,"v":0.006},{"f":375,"v":0.003},{"f":380,"v":0.005},{"f":385,"v":0.002},{"f":390,"v":0.004},{"f":395,"v":0.003},{"f":400,"v":0.009},{"f":405,"v":0.004},{"f":410,"v":0.008},{"f":415,"v":0.002},{"f":420,"v":0.005},{"f":425,"v":0.003},{"f":430,"v":0.004},{"f":435,"v":0.002},{"f":440,"v":0.004},{"f":445,"v":0.002},{"f":450,"v":0.003},{"f":455,"v":0.004},{"f":460,"v":0.002},{"f":465,"v":0.003},{"f":470,"v":0.002},{"f":475,"v":0.003},{"f":480,"v":0.002},{"f":485,"v":0.003},{"f":490,"v":0.002},{"f":495,"v":0.005},{"f":500,"v":0.002},{"f":505,"v":0.003},{"f":510,"v":0.002},{"f":515,"v":0.004},{"f":520,"v":0.002},{"f":525,"v":0.005},{"f":530,"v":0.002},{"f":535,"v":0.003},{"f":540,"v":0.001},{"f":550,"v":0.002},{"f":560,"v":0.003},{"f":570,"v":0.001},{"f":580,"v":0.003},{"f":590,"v":0.001},{"f":600,"v":0.004},{"f":610,"v":0.001},{"f":620,"v":0.003},{"f":630,"v":0.004},{"f":640,"v":0.001},{"f":650,"v":0.002},{"f":660,"v":0.001},{"f":670,"v":0.002},{"f":680,"v":0.001},{"f":690,"v":0.001},{"f":700,"v":0.002},{"f":710,"v":0.001},{"f":720,"v":0.002},{"f":730,"v":0.001},{"f":740,"v":0.002},{"f":750,"v":0.001},{"f":760,"v":0.001},{"f":770,"v":0.003},{"f":780,"v":0.001},{"f":790,"v":0.002},{"f":800,"v":0.001},{"f":810,"v":0.002},{"f":820,"v":0.001},{"f":830,"v":0.002},{"f":840,"v":0.001},{"f":850,"v":0.001},{"f":860,"v":0.002},{"f":870,"v":0.001},{"f":880,"v":0.001},{"f":890,"v":0.002},{"f":900,"v":0.001},{"f":910,"v":0.001},{"f":920,"v":0.002},{"f":930,"v":0.001},{"f":940,"v":0.001},{"f":950,"v":0.002},{"f":960,"v":0.001},{"f":970,"v":0.001},{"f":980,"v":0.002},{"f":990,"v":0.001},{"f":1000,"v":0.001},{"f":1011,"v":0.002}],
"sb": [{"f":0,"v":0.0},{"f":2,"v":0.032},{"f":5,"v":0.02},{"f":8,"v":0.03},{"f":11,"v":0.015},{"f":15,"v":0.102},{"f":18,"v":0.014},{"f":21,"v":0.112},{"f":25,"v":0.015},{"f":29,"v":0.013},{"f":35,"v":0.086},{"f":38,"v":0.015},{"f":42,"v":0.036},{"f":46,"v":0.015},{"f":50,"v":0.02},{"f":53,"v":0.09},{"f":57,"v":0.02},{"f":61,"v":0.015},{"f":65,"v":0.01},{"f":68,"v":0.04},{"f":72,"v":0.01},{"f":76,"v":0.02},{"f":79,"v":0.035},{"f":83,"v":0.042},{"f":88,"v":0.01},{"f":93,"v":0.031},{"f":98,"v":0.015},{"f":103,"v":0.025},{"f":108,"v":0.012},{"f":112,"v":0.053},{"f":116,"v":0.012},{"f":120,"v":0.012},{"f":125,"v":0.02},{"f":130,"v":0.015},{"f":134,"v":0.025},{"f":137,"v":0.101},{"f":141,"v":0.004},{"f":147,"v":0.033},{"f":152,"v":0.008},{"f":158,"v":0.04},{"f":163,"v":0.005},{"f":168,"v":0.012},{"f":172,"v":0.008},{"f":176,"v":0.02},{"f":180,"v":0.01},{"f":185,"v":0.018},{"f":190,"v":0.006},{"f":195,"v":0.012},{"f":200,"v":0.005},{"f":205,"v":0.015},{"f":210,"v":0.008},{"f":215,"v":0.012},{"f":220,"v":0.005},{"f":225,"v":0.02},{"f":230,"v":0.008},{"f":235,"v":0.015},{"f":240,"v":0.006},{"f":245,"v":0.022},{"f":250,"v":0.01},{"f":255,"v":0.025},{"f":260,"v":0.008},{"f":265,"v":0.018},{"f":270,"v":0.006},{"f":275,"v":0.026},{"f":280,"v":0.01},{"f":285,"v":0.015},{"f":290,"v":0.005},{"f":295,"v":0.012},{"f":300,"v":0.003},{"f":305,"v":0.009},{"f":310,"v":0.004},{"f":315,"v":0.008},{"f":320,"v":0.005},{"f":325,"v":0.007},{"f":330,"v":0.004},{"f":335,"v":0.006},{"f":340,"v":0.003},{"f":345,"v":0.008},{"f":350,"v":0.004},{"f":355,"v":0.006},{"f":360,"v":0.003},{"f":365,"v":0.008},{"f":370,"v":0.012},{"f":375,"v":0.004},{"f":380,"v":0.006},{"f":385,"v":0.003},{"f":390,"v":0.005},{"f":395,"v":0.002},{"f":400,"v":0.006},{"f":405,"v":0.004},{"f":410,"v":0.01},{"f":415,"v":0.003},{"f":420,"v":0.006},{"f":425,"v":0.004},{"f":430,"v":0.007},{"f":435,"v":0.003},{"f":440,"v":0.005},{"f":445,"v":0.002},{"f":450,"v":0.003},{"f":455,"v":0.002},{"f":460,"v":0.003},{"f":465,"v":0.001},{"f":470,"v":0.002},{"f":475,"v":0.003},{"f":480,"v":0.001},{"f":485,"v":0.002},{"f":490,"v":0.001},{"f":495,"v":0.003},{"f":500,"v":0.001},{"f":505,"v":0.002},{"f":510,"v":0.001},{"f":515,"v":0.002},{"f":520,"v":0.001},{"f":525,"v":0.004},{"f":530,"v":0.001},{"f":535,"v":0.002},{"f":540,"v":0.001},{"f":545,"v":0.002},{"f":550,"v":0.006},{"f":555,"v":0.001},{"f":560,"v":0.002},{"f":570,"v":0.001},{"f":580,"v":0.001},{"f":590,"v":0.001},{"f":600,"v":0.002},{"f":610,"v":0.001},{"f":620,"v":0.001},{"f":630,"v":0.001},{"f":640,"v":0.002},{"f":650,"v":0.0005},{"f":700,"v":0.0005},{"f":750,"v":0.0006},{"f":800,"v":0.0005},{"f":850,"v":0.0005},{"f":900,"v":0.0006},{"f":950,"v":0.0005},{"f":1011,"v":0.0005}],
"sc": [{"f":0,"v":0.0},{"f":2,"v":0.27},{"f":5,"v":0.1},{"f":8,"v":0.15},{"f":11,"v":0.08},{"f":15,"v":0.66},{"f":18,"v":0.25},{"f":20,"v":0.25},{"f":22,"v":0.62},{"f":25,"v":0.15},{"f":28,"v":0.28},{"f":32,"v":0.62},{"f":35,"v":0.1},{"f":38,"v":0.2},{"f":42,"v":0.12},{"f":46,"v":0.2},{"f":49,"v":0.1},{"f":52,"v":0.55},{"f":56,"v":0.1},{"f":60,"v":0.2},{"f":64,"v":0.12},{"f":70,"v":0.35},{"f":74,"v":0.02},{"f":78,"v":0.1},{"f":82,"v":0.05},{"f":86,"v":0.15},{"f":90,"v":0.26},{"f":94,"v":0.18},{"f":98,"v":0.22},{"f":102,"v":0.44},{"f":106,"v":0.15},{"f":109,"v":0.03},{"f":113,"v":0.18},{"f":117,"v":0.12},{"f":121,"v":0.15},{"f":125,"v":0.28},{"f":129,"v":0.08},{"f":133,"v":0.12},{"f":138,"v":0.5},{"f":142,"v":0.08},{"f":146,"v":0.1},{"f":150,"v":0.15},{"f":155,"v":0.08},{"f":160,"v":0.2},{"f":165,"v":0.1},{"f":170,"v":0.18},{"f":175,"v":0.12},{"f":180,"v":0.2},{"f":185,"v":0.08},{"f":190,"v":0.18},{"f":195,"v":0.1},{"f":200,"v":0.17},{"f":205,"v":0.05},{"f":210,"v":0.15},{"f":215,"v":0.08},{"f":220,"v":0.2},{"f":225,"v":0.1},{"f":230,"v":0.15},{"f":235,"v":0.05},{"f":240,"v":0.12},{"f":245,"v":0.08},{"f":250,"v":0.14},{"f":255,"v":0.04},{"f":260,"v":0.0},{"f":265,"v":0.12},{"f":270,"v":0.23},{"f":275,"v":0.1},{"f":280,"v":0.16},{"f":285,"v":0.05},{"f":290,"v":0.12},{"f":295,"v":0.08},{"f":300,"v":0.22},{"f":305,"v":0.05},{"f":310,"v":0.15},{"f":315,"v":0.08},{"f":320,"v":0.2},{"f":325,"v":0.03},{"f":330,"v":0.12},{"f":335,"v":0.06},{"f":340,"v":0.18},{"f":345,"v":0.04},{"f":350,"v":0.12},{"f":355,"v":0.06},{"f":360,"v":0.18},{"f":365,"v":0.08},{"f":370,"v":0.12},{"f":375,"v":0.04},{"f":380,"v":0.1},{"f":385,"v":0.06},{"f":390,"v":0.14},{"f":395,"v":0.02},{"f":400,"v":0.1},{"f":405,"v":0.08},{"f":410,"v":0.15},{"f":415,"v":0.05},{"f":420,"v":0.1},{"f":425,"v":0.04},{"f":430,"v":0.18},{"f":435,"v":0.08},{"f":440,"v":0.12},{"f":445,"v":0.2},{"f":450,"v":0.06},{"f":455,"v":0.12},{"f":460,"v":0.05},{"f":465,"v":0.16},{"f":470,"v":0.08},{"f":475,"v":0.2},{"f":480,"v":0.05},{"f":485,"v":0.1},{"f":490,"v":0.02},{"f":495,"v":0.12},{"f":500,"v":0.08},{"f":505,"v":0.1},{"f":510,"v":0.06},{"f":515,"v":0.15},{"f":520,"v":0.12},{"f":525,"v":0.2},{"f":530,"v":0.26},{"f":535,"v":0.1},{"f":540,"v":0.08},{"f":545,"v":0.15},{"f":550,"v":0.2},{"f":555,"v":0.47},{"f":560,"v":0.0},{"f":565,"v":0.1},{"f":570,"v":0.2},{"f":575,"v":0.27},{"f":580,"v":0.05},{"f":585,"v":0.15},{"f":590,"v":0.08},{"f":595,"v":0.12},{"f":600,"v":0.05},{"f":605,"v":0.18},{"f":610,"v":0.04},{"f":615,"v":0.1},{"f":620,"v":0.06},{"f":625,"v":0.12},{"f":630,"v":0.08},{"f":635,"v":0.05},{"f":640,"v":0.1},{"f":645,"v":0.03},{"f":650,"v":0.08},{"f":660,"v":0.05},{"f":670,"v":0.02},{"f":680,"v":0.1},{"f":690,"v":0.04},{"f":700,"v":0.06},{"f":710,"v":0.08},{"f":720,"v":0.02},{"f":730,"v":0.1},{"f":740,"v":0.03},{"f":750,"v":0.08},{"f":760,"v":0.04},{"f":770,"v":0.06},{"f":780,"v":0.05},{"f":790,"v":0.03},{"f":800,"v":0.06},{"f":810,"v":0.04},{"f":820,"v":0.05},{"f":830,"v":0.06},{"f":840,"v":0.03},{"f":850,"v":0.05},{"f":860,"v":0.07},{"f":870,"v":0.03},{"f":880,"v":0.05},{"f":890,"v":0.06},{"f":900,"v":0.02},{"f":910,"v":0.05},{"f":920,"v":0.04},{"f":930,"v":0.06},{"f":940,"v":0.02},{"f":950,"v":0.05},{"f":960,"v":0.03},{"f":970,"v":0.06},{"f":980,"v":0.02},{"f":990,"v":0.04},{"f":1000,"v":0.05},{"f":1011,"v":0.03}],
"sd": [{"f":0,"v":0.38},{"f":3,"v":0.12},{"f":6,"v":0.2},{"f":9,"v":0.12},{"f":12,"v":0.2},{"f":15,"v":0.53},{"f":18,"v":0.15},{"f":21,"v":0.86},{"f":25,"v":0.15},{"f":29,"v":0.04},{"f":34,"v":0.53},{"f":38,"v":0.1},{"f":43,"v":0.15},{"f":48,"v":0.05},{"f":53,"v":0.49},{"f":57,"v":0.1},{"f":60,"v":0.08},{"f":63,"v":0.2},{"f":68,"v":0.35},{"f":72,"v":0.1},{"f":75,"v":0.03},{"f":80,"v":0.2},{"f":84,"v":0.15},{"f":88,"v":0.25},{"f":92,"v":0.12},{"f":95,"v":0.15},{"f":99,"v":0.2},{"f":102,"v":0.38},{"f":107,"v":0.1},{"f":112,"v":0.2},{"f":117,"v":0.05},{"f":122,"v":0.3},{"f":127,"v":0.08},{"f":132,"v":0.0},{"f":138,"v":0.5},{"f":142,"v":0.05},{"f":147,"v":0.12},{"f":152,"v":0.1},{"f":157,"v":0.22},{"f":162,"v":0.08},{"f":167,"v":0.18},{"f":172,"v":0.1},{"f":177,"v":0.2},{"f":182,"v":0.08},{"f":187,"v":0.15},{"f":192,"v":0.1},{"f":197,"v":0.2},{"f":202,"v":0.12},{"f":207,"v":0.1},{"f":212,"v":0.18},{"f":217,"v":0.06},{"f":222,"v":0.16},{"f":227,"v":0.05},{"f":232,"v":0.12},{"f":237,"v":0.08},{"f":242,"v":0.13},{"f":247,"v":0.05},{"f":252,"v":0.1},{"f":257,"v":0.08},{"f":262,"v":0.12},{"f":265,"v":0.02},{"f":270,"v":0.1},{"f":277,"v":0.28},{"f":282,"v":0.05},{"f":287,"v":0.15},{"f":292,"v":0.08},{"f":297,"v":0.12},{"f":303,"v":0.28},{"f":308,"v":0.05},{"f":313,"v":0.12},{"f":318,"v":0.04},{"f":323,"v":0.1},{"f":328,"v":0.0},{"f":333,"v":0.12},{"f":338,"v":0.06},{"f":343,"v":0.15},{"f":348,"v":0.08},{"f":352,"v":0.1},{"f":357,"v":0.25},{"f":362,"v":0.05},{"f":367,"v":0.1},{"f":372,"v":0.06},{"f":377,"v":0.12},{"f":382,"v":0.04},{"f":387,"v":0.08},{"f":392,"v":0.05},{"f":397,"v":0.1},{"f":402,"v":0.06},{"f":407,"v":0.08},{"f":412,"v":0.03},{"f":417,"v":0.1},{"f":422,"v":0.05},{"f":427,"v":0.0},{"f":432,"v":0.15},{"f":437,"v":0.06},{"f":442,"v":0.08},{"f":447,"v":0.04},{"f":452,"v":0.1},{"f":457,"v":0.05},{"f":462,"v":0.08},{"f":467,"v":0.03},{"f":472,"v":0.1},{"f":477,"v":0.06},{"f":482,"v":0.12},{"f":487,"v":0.15},{"f":492,"v":0.05},{"f":497,"v":0.08},{"f":502,"v":0.03},{"f":507,"v":0.06},{"f":512,"v":0.1},{"f":517,"v":0.04},{"f":522,"v":0.06},{"f":527,"v":0.03},{"f":532,"v":0.05},{"f":537,"v":0.02},{"f":542,"v":0.06},{"f":547,"v":0.04},{"f":552,"v":0.07},{"f":557,"v":0.03},{"f":562,"v":0.05},{"f":567,"v":0.02},{"f":572,"v":0.06},{"f":577,"v":0.08},{"f":582,"v":0.03},{"f":587,"v":0.05},{"f":592,"v":0.02},{"f":597,"v":0.04},{"f":602,"v":0.03},{"f":607,"v":0.05},{"f":612,"v":0.02},{"f":617,"v":0.04},{"f":622,"v":0.06},{"f":627,"v":0.02},{"f":632,"v":0.03},{"f":640,"v":0.02},{"f":650,"v":0.03},{"f":660,"v":0.01},{"f":670,"v":0.025},{"f":680,"v":0.01},{"f":690,"v":0.02},{"f":700,"v":0.015},{"f":710,"v":0.01},{"f":720,"v":0.02},{"f":730,"v":0.01},{"f":740,"v":0.015},{"f":750,"v":0.01},{"f":760,"v":0.02},{"f":770,"v":0.01},{"f":780,"v":0.015},{"f":790,"v":0.01},{"f":800,"v":0.015},{"f":810,"v":0.01},{"f":820,"v":0.01},{"f":830,"v":0.025},{"f":840,"v":0.01},{"f":850,"v":0.015},{"f":860,"v":0.01},{"f":870,"v":0.015},{"f":880,"v":0.01},{"f":890,"v":0.015},{"f":900,"v":0.01},{"f":910,"v":0.015},{"f":920,"v":0.01},{"f":930,"v":0.02},{"f":940,"v":0.01},{"f":950,"v":0.015},{"f":960,"v":0.01},{"f":970,"v":0.015},{"f":980,"v":0.01},{"f":990,"v":0.015},{"f":1000,"v":0.01},{"f":1011,"v":0.015}],
"na": [{"k":"arrow","x":21,"y":0.0664,"x2":103.6,"y2":0.0612},{"k":"arrow","x":149.7,"y":0.0477,"x2":216.7,"y2":0.0434},{"k":"f","x":105.6,"y":0.0612,"t":"f"},{"k":"sub","x":122.1,"y":0.0555,"t":"s"},{"k":"f","x":226.9,"y":0.0415,"t":"f"},{"k":"sub","x":244.2,"y":0.0363,"t":"BSF"}],
"nb": [{"k":"arrow","x":145,"y":0.0967,"x2":216.7,"y2":0.0876},{"k":"f","x":229.6,"y":0.0845,"t":"f"},{"k":"sub","x":247,"y":0.0753,"t":"BSF"}],
"nc": [{"k":"arrow","x":149.7,"y":0.484,"x2":218.6,"y2":0.434},{"k":"f","x":234.3,"y":0.434,"t":"f"},{"k":"sub","x":252.5,"y":0.378,"t":"BSF"}],
"nd": [{"k":"arrow","x":27.6,"y":0.818,"x2":103.6,"y2":0.746},{"k":"arrow","x":137.8,"y":0.522,"x2":213.9,"y2":0.448},{"k":"f","x":108.3,"y":0.746,"t":"f"},{"k":"sub","x":122.1,"y":0.669,"t":"s"},{"k":"f","x":226,"y":0.454,"t":"f"},{"k":"sub","x":246.2,"y":0.394,"t":"BSF"}]
},
"concat": [
  {"width": 369, "height": 98, "title": {"text": "a) MED-morphological filter and ridge analysis", "orient": "bottom", "anchor": "middle", "dx": 224.5, "offset": 27.5, "baseline": "alphabetic", "font": "Liberation Serif", "fontSize": 24, "fontWeight": "normal", "color": "#000"}, "resolve": {"axis": {"x": "independent", "y": "independent"}}, "layer": [
   {"data": {"name": "ta"}, "mark": {"type": "line", "color": "#0000ff", "strokeWidth": 1, "clip": true}, "encoding": {
    "x": {"field": "t", "type": "quantitative", "scale": {"domain": [0, 0.3373], "nice": false, "zero": false}, "axis": {"values": [0, 0.05, 0.1, 0.15, 0.2, 0.25, 0.3], "format": "~g", "title": "Time(s)"}},
    "y": {"field": "v", "type": "quantitative", "scale": {"domain": [0.044, 1.034], "nice": false, "zero": false}, "axis": {"values": [0.2, 0.4, 0.6, 0.8, 1], "format": "~g", "title": "Amplitude"}}}},
   {"data": {"name": "ta"}, "mark": {"type": "line", "strokeOpacity": 0}, "encoding": {
    "x": {"field": "t", "type": "quantitative", "scale": {"domain": [0, 0.3373], "nice": false, "zero": false}, "axis": {"orient": "top", "values": [0, 0.05, 0.1, 0.15, 0.2, 0.25, 0.3], "labels": false, "title": null}},
    "y": {"field": "v", "type": "quantitative", "scale": {"domain": [0.044, 1.034], "nice": false, "zero": false}, "axis": {"orient": "right", "values": [0.2, 0.4, 0.6, 0.8, 1], "labels": false, "title": null}}}}
  ]},
  {"width": 367, "height": 98, "resolve": {"axis": {"x": "independent", "y": "independent"}}, "layer": [
   {"data": {"name": "sa"}, "mark": {"type": "line", "color": "#0000ff", "strokeWidth": 1, "clip": true}, "encoding": {
    "x": {"field": "f", "type": "quantitative", "scale": {"domain": [0, 1011.7], "nice": false, "zero": false}, "axis": {"values": [0, 100, 200, 300, 400, 500, 600, 700, 800, 900], "title": "Frequency(Hz)"}},
    "y": {"field": "v", "type": "quantitative", "scale": {"domain": [0, 0.069], "nice": false, "zero": false}, "axis": {"values": [0.02, 0.04, 0.06], "format": "~g", "title": "Amplitude"}}}},
   {"data": {"name": "sa"}, "mark": {"type": "line", "strokeOpacity": 0}, "encoding": {
    "x": {"field": "f", "type": "quantitative", "scale": {"domain": [0, 1011.7], "nice": false, "zero": false}, "axis": {"orient": "top", "values": [0, 100, 200, 300, 400, 500, 600, 700, 800, 900], "labels": false, "title": null}},
    "y": {"field": "v", "type": "quantitative", "scale": {"domain": [0, 0.069], "nice": false, "zero": false}, "axis": {"orient": "right", "values": [0.02, 0.04, 0.06], "labels": false, "title": null}}}},
   {"data": {"name": "na"}, "transform": [{"filter": "datum.k == 'arrow'"}], "mark": {"type": "rule", "color": "#000", "strokeWidth": 1}, "encoding": {"x": {"field": "x", "type": "quantitative", "axis": null}, "y": {"field": "y", "type": "quantitative", "axis": null}, "x2": {"field": "x2"}, "y2": {"field": "y2"}}},
   {"data": {"name": "na"}, "transform": [{"filter": "datum.k == 'arrow'"}], "mark": {"type": "point", "shape": "M0,0L0.38,1L-0.38,1Z", "filled": true, "color": "#000", "opacity": 1, "size": 180, "angle": 285, "strokeWidth": 0}, "encoding": {"x": {"field": "x", "type": "quantitative", "axis": null}, "y": {"field": "y", "type": "quantitative", "axis": null}}},
   {"data": {"name": "na"}, "transform": [{"filter": "datum.k == 'f'"}], "mark": {"type": "text", "font": "Liberation Sans", "fontSize": 21, "align": "left", "baseline": "alphabetic", "color": "#000"}, "encoding": {"x": {"field": "x", "type": "quantitative", "axis": null}, "y": {"field": "y", "type": "quantitative", "axis": null}, "text": {"field": "t"}}},
   {"data": {"name": "na"}, "transform": [{"filter": "datum.k == 'sub'"}], "mark": {"type": "text", "font": "Liberation Serif", "fontSize": 15, "align": "left", "baseline": "alphabetic", "color": "#000"}, "encoding": {"x": {"field": "x", "type": "quantitative", "axis": null}, "y": {"field": "y", "type": "quantitative", "axis": null}, "text": {"field": "t"}}}
  ]},
  {"width": 369, "height": 96, "title": {"text": "b) MED and ridge analysis", "orient": "bottom", "anchor": "middle", "dx": 224.5, "offset": 28.5, "baseline": "alphabetic", "font": "Liberation Serif", "fontSize": 24, "fontWeight": "normal", "color": "#000"}, "resolve": {"axis": {"x": "independent", "y": "independent"}}, "layer": [
   {"data": {"name": "tb"}, "mark": {"type": "line", "color": "#0000ff", "strokeWidth": 1, "clip": true}, "encoding": {
    "x": {"field": "t", "type": "quantitative", "scale": {"domain": [0, 0.3373], "nice": false, "zero": false}, "axis": {"values": [0, 0.05, 0.1, 0.15, 0.2, 0.25, 0.3], "format": "~g", "title": "Time(s)"}},
    "y": {"field": "v", "type": "quantitative", "scale": {"domain": [0.134, 1.613], "nice": false, "zero": false}, "axis": {"values": [0.5, 1, 1.5], "format": "~g", "title": "Amplitude"}}}},
   {"data": {"name": "tb"}, "mark": {"type": "line", "strokeOpacity": 0}, "encoding": {
    "x": {"field": "t", "type": "quantitative", "scale": {"domain": [0, 0.3373], "nice": false, "zero": false}, "axis": {"orient": "top", "values": [0, 0.05, 0.1, 0.15, 0.2, 0.25, 0.3], "labels": false, "title": null}},
    "y": {"field": "v", "type": "quantitative", "scale": {"domain": [0.134, 1.613], "nice": false, "zero": false}, "axis": {"orient": "right", "values": [0.5, 1, 1.5], "labels": false, "title": null}}}}
  ]},
  {"width": 367, "height": 96, "resolve": {"axis": {"x": "independent", "y": "independent"}}, "layer": [
   {"data": {"name": "sb"}, "mark": {"type": "line", "color": "#0000ff", "strokeWidth": 1, "clip": true}, "encoding": {
    "x": {"field": "f", "type": "quantitative", "scale": {"domain": [0, 1011.7], "nice": false, "zero": false}, "axis": {"values": [0, 100, 200, 300, 400, 500, 600, 700, 800, 900], "title": "Frequency(Hz)"}},
    "y": {"field": "v", "type": "quantitative", "scale": {"domain": [0, 0.112], "nice": false, "zero": false}, "axis": {"values": [0.02, 0.04, 0.06, 0.08, 0.1], "format": "~g", "title": "Amplitude"}}}},
   {"data": {"name": "sb"}, "mark": {"type": "line", "strokeOpacity": 0}, "encoding": {
    "x": {"field": "f", "type": "quantitative", "scale": {"domain": [0, 1011.7], "nice": false, "zero": false}, "axis": {"orient": "top", "values": [0, 100, 200, 300, 400, 500, 600, 700, 800, 900], "labels": false, "title": null}},
    "y": {"field": "v", "type": "quantitative", "scale": {"domain": [0, 0.112], "nice": false, "zero": false}, "axis": {"orient": "right", "values": [0.02, 0.04, 0.06, 0.08, 0.1], "labels": false, "title": null}}}},
   {"data": {"name": "nb"}, "transform": [{"filter": "datum.k == 'arrow'"}], "mark": {"type": "rule", "color": "#000", "strokeWidth": 1}, "encoding": {"x": {"field": "x", "type": "quantitative", "axis": null}, "y": {"field": "y", "type": "quantitative", "axis": null}, "x2": {"field": "x2"}, "y2": {"field": "y2"}}},
   {"data": {"name": "nb"}, "transform": [{"filter": "datum.k == 'arrow'"}], "mark": {"type": "point", "shape": "M0,0L0.38,1L-0.38,1Z", "filled": true, "color": "#000", "opacity": 1, "size": 180, "angle": 285, "strokeWidth": 0}, "encoding": {"x": {"field": "x", "type": "quantitative", "axis": null}, "y": {"field": "y", "type": "quantitative", "axis": null}}},
   {"data": {"name": "nb"}, "transform": [{"filter": "datum.k == 'f'"}], "mark": {"type": "text", "font": "Liberation Sans", "fontSize": 21, "align": "left", "baseline": "alphabetic", "color": "#000"}, "encoding": {"x": {"field": "x", "type": "quantitative", "axis": null}, "y": {"field": "y", "type": "quantitative", "axis": null}, "text": {"field": "t"}}},
   {"data": {"name": "nb"}, "transform": [{"filter": "datum.k == 'sub'"}], "mark": {"type": "text", "font": "Liberation Serif", "fontSize": 15, "align": "left", "baseline": "alphabetic", "color": "#000"}, "encoding": {"x": {"field": "x", "type": "quantitative", "axis": null}, "y": {"field": "y", "type": "quantitative", "axis": null}, "text": {"field": "t"}}}
  ]},
  {"width": 369, "height": 97, "title": {"text": "c) EEMD based envelope analysis", "orient": "bottom", "anchor": "middle", "dx": 224.5, "offset": 26.2, "baseline": "alphabetic", "font": "Liberation Serif", "fontSize": 24, "fontWeight": "normal", "color": "#000"}, "resolve": {"axis": {"x": "independent", "y": "independent"}}, "layer": [
   {"data": {"name": "tc"}, "mark": {"type": "line", "color": "#0000ff", "strokeWidth": 1, "clip": true}, "encoding": {
    "x": {"field": "t", "type": "quantitative", "scale": {"domain": [0, 0.3373], "nice": false, "zero": false}, "axis": {"values": [0, 0.05, 0.1, 0.15, 0.2, 0.25, 0.3], "format": "~g", "title": "Time(s)"}},
    "y": {"field": "v", "type": "quantitative", "scale": {"domain": [0, 9.44], "nice": false, "zero": false}, "axis": {"values": [2, 4, 6, 8], "format": "~g", "title": "Amplitude"}}}},
   {"data": {"name": "tc"}, "mark": {"type": "line", "strokeOpacity": 0}, "encoding": {
    "x": {"field": "t", "type": "quantitative", "scale": {"domain": [0, 0.3373], "nice": false, "zero": false}, "axis": {"orient": "top", "values": [0, 0.05, 0.1, 0.15, 0.2, 0.25, 0.3], "labels": false, "title": null}},
    "y": {"field": "v", "type": "quantitative", "scale": {"domain": [0, 9.44], "nice": false, "zero": false}, "axis": {"orient": "right", "values": [2, 4, 6, 8], "labels": false, "title": null}}}}
  ]},
  {"width": 367, "height": 97, "resolve": {"axis": {"x": "independent", "y": "independent"}}, "layer": [
   {"data": {"name": "sc"}, "mark": {"type": "line", "color": "#0000ff", "strokeWidth": 1, "clip": true}, "encoding": {
    "x": {"field": "f", "type": "quantitative", "scale": {"domain": [0, 1011.7], "nice": false, "zero": false}, "axis": {"values": [0, 100, 200, 300, 400, 500, 600, 700, 800, 900], "title": "Frequency(Hz)"}},
    "y": {"field": "v", "type": "quantitative", "scale": {"domain": [0, 0.655], "nice": false, "zero": false}, "axis": {"values": [0.2, 0.4, 0.6], "format": "~g", "title": "Amplitude"}}}},
   {"data": {"name": "sc"}, "mark": {"type": "line", "strokeOpacity": 0}, "encoding": {
    "x": {"field": "f", "type": "quantitative", "scale": {"domain": [0, 1011.7], "nice": false, "zero": false}, "axis": {"orient": "top", "values": [0, 100, 200, 300, 400, 500, 600, 700, 800, 900], "labels": false, "title": null}},
    "y": {"field": "v", "type": "quantitative", "scale": {"domain": [0, 0.655], "nice": false, "zero": false}, "axis": {"orient": "right", "values": [0.2, 0.4, 0.6], "labels": false, "title": null}}}},
   {"data": {"name": "nc"}, "transform": [{"filter": "datum.k == 'arrow'"}], "mark": {"type": "rule", "color": "#000", "strokeWidth": 1}, "encoding": {"x": {"field": "x", "type": "quantitative", "axis": null}, "y": {"field": "y", "type": "quantitative", "axis": null}, "x2": {"field": "x2"}, "y2": {"field": "y2"}}},
   {"data": {"name": "nc"}, "transform": [{"filter": "datum.k == 'arrow'"}], "mark": {"type": "point", "shape": "M0,0L0.38,1L-0.38,1Z", "filled": true, "color": "#000", "opacity": 1, "size": 180, "angle": 285, "strokeWidth": 0}, "encoding": {"x": {"field": "x", "type": "quantitative", "axis": null}, "y": {"field": "y", "type": "quantitative", "axis": null}}},
   {"data": {"name": "nc"}, "transform": [{"filter": "datum.k == 'f'"}], "mark": {"type": "text", "font": "Liberation Sans", "fontSize": 21, "align": "left", "baseline": "alphabetic", "color": "#000"}, "encoding": {"x": {"field": "x", "type": "quantitative", "axis": null}, "y": {"field": "y", "type": "quantitative", "axis": null}, "text": {"field": "t"}}},
   {"data": {"name": "nc"}, "transform": [{"filter": "datum.k == 'sub'"}], "mark": {"type": "text", "font": "Liberation Serif", "fontSize": 15, "align": "left", "baseline": "alphabetic", "color": "#000"}, "encoding": {"x": {"field": "x", "type": "quantitative", "axis": null}, "y": {"field": "y", "type": "quantitative", "axis": null}, "text": {"field": "t"}}}
  ]},
  {"width": 369, "height": 95, "title": {"text": "d) Kurtogram based envelope analysis", "orient": "bottom", "anchor": "middle", "dx": 224.5, "offset": 27.2, "baseline": "alphabetic", "font": "Liberation Serif", "fontSize": 24, "fontWeight": "normal", "color": "#000"}, "resolve": {"axis": {"x": "independent", "y": "independent"}}, "layer": [
   {"data": {"name": "td"}, "mark": {"type": "line", "color": "#0000ff", "strokeWidth": 1, "clip": true}, "encoding": {
    "x": {"field": "t", "type": "quantitative", "scale": {"domain": [0, 0.3373], "nice": false, "zero": false}, "axis": {"values": [0, 0.05, 0.1, 0.15, 0.2, 0.25, 0.3], "format": "~g", "title": "Time(s)"}},
    "y": {"field": "v", "type": "quantitative", "scale": {"domain": [0, 6.95], "nice": false, "zero": false}, "axis": {"values": [2, 4, 6], "format": "~g", "title": "Amplitude"}}}},
   {"data": {"name": "td"}, "mark": {"type": "line", "strokeOpacity": 0}, "encoding": {
    "x": {"field": "t", "type": "quantitative", "scale": {"domain": [0, 0.3373], "nice": false, "zero": false}, "axis": {"orient": "top", "values": [0, 0.05, 0.1, 0.15, 0.2, 0.25, 0.3], "labels": false, "title": null}},
    "y": {"field": "v", "type": "quantitative", "scale": {"domain": [0, 6.95], "nice": false, "zero": false}, "axis": {"orient": "right", "values": [2, 4, 6], "labels": false, "title": null}}}}
  ]},
  {"width": 367, "height": 95, "resolve": {"axis": {"x": "independent", "y": "independent"}}, "layer": [
   {"data": {"name": "sd"}, "mark": {"type": "line", "color": "#0000ff", "strokeWidth": 1, "clip": true}, "encoding": {
    "x": {"field": "f", "type": "quantitative", "scale": {"domain": [0, 1011.7], "nice": false, "zero": false}, "axis": {"values": [0, 100, 200, 300, 400, 500, 600, 700, 800, 900], "title": "Frequency(Hz)"}},
    "y": {"field": "v", "type": "quantitative", "scale": {"domain": [0, 0.86], "nice": false, "zero": false}, "axis": {"values": [0.2, 0.4, 0.6, 0.8], "format": "~g", "title": "Amplitude"}}}},
   {"data": {"name": "sd"}, "mark": {"type": "line", "strokeOpacity": 0}, "encoding": {
    "x": {"field": "f", "type": "quantitative", "scale": {"domain": [0, 1011.7], "nice": false, "zero": false}, "axis": {"orient": "top", "values": [0, 100, 200, 300, 400, 500, 600, 700, 800, 900], "labels": false, "title": null}},
    "y": {"field": "v", "type": "quantitative", "scale": {"domain": [0, 0.86], "nice": false, "zero": false}, "axis": {"orient": "right", "values": [0.2, 0.4, 0.6, 0.8], "labels": false, "title": null}}}},
   {"data": {"name": "nd"}, "transform": [{"filter": "datum.k == 'arrow'"}], "mark": {"type": "rule", "color": "#000", "strokeWidth": 1}, "encoding": {"x": {"field": "x", "type": "quantitative", "axis": null}, "y": {"field": "y", "type": "quantitative", "axis": null}, "x2": {"field": "x2"}, "y2": {"field": "y2"}}},
   {"data": {"name": "nd"}, "transform": [{"filter": "datum.k == 'arrow'"}], "mark": {"type": "point", "shape": "M0,0L0.38,1L-0.38,1Z", "filled": true, "color": "#000", "opacity": 1, "size": 180, "angle": 285, "strokeWidth": 0}, "encoding": {"x": {"field": "x", "type": "quantitative", "axis": null}, "y": {"field": "y", "type": "quantitative", "axis": null}}},
   {"data": {"name": "nd"}, "transform": [{"filter": "datum.k == 'f'"}], "mark": {"type": "text", "font": "Liberation Sans", "fontSize": 21, "align": "left", "baseline": "alphabetic", "color": "#000"}, "encoding": {"x": {"field": "x", "type": "quantitative", "axis": null}, "y": {"field": "y", "type": "quantitative", "axis": null}, "text": {"field": "t"}}},
   {"data": {"name": "nd"}, "transform": [{"filter": "datum.k == 'sub'"}], "mark": {"type": "text", "font": "Liberation Serif", "fontSize": 15, "align": "left", "baseline": "alphabetic", "color": "#000"}, "encoding": {"x": {"field": "x", "type": "quantitative", "axis": null}, "y": {"field": "y", "type": "quantitative", "axis": null}, "text": {"field": "t"}}}
  ]}
],
"config": {
 "view": {"stroke": "#000", "strokeWidth": 1},
 "axis": {"domain": false, "grid": false, "ticks": true, "tickColor": "#000", "tickSize": -4, "tickWidth": 1, "labelFont": "Liberation Sans", "labelFontSize": 11.5, "labelColor": "#000", "titleFont": "Liberation Sans", "titleFontSize": 12, "titleFontWeight": "normal", "titleColor": "#000", "labelFlush": false, "labelOverlap": false, "labelBound": false},
 "axisX": {"labelPadding": 5, "titlePadding": 2},
 "axisY": {"labelPadding": 4, "titlePadding": 8}
}
}
